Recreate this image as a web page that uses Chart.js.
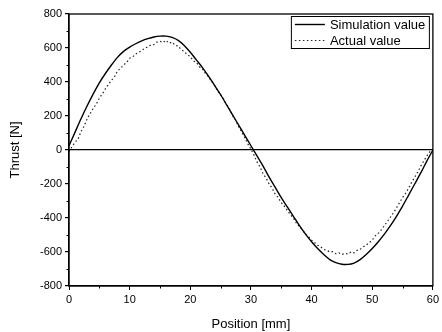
<!DOCTYPE html>
<html>
<head>
<meta charset="utf-8">
<script src="https://cdn.jsdelivr.net/npm/chart.js@4.4.1/dist/chart.umd.min.js"></script>
<style>
html,body{margin:0;padding:0;background:#fff;}
#wrap{width:442px;height:332px;}
</style>
</head>
<body>
<div id="wrap"><canvas id="c" width="442" height="332"></canvas></div>
<script>
// ---- data ----
const simPosition = [0,1,2,3,4,5,6,7,8,9,10,11,12,13,14,15,16,17,18,19,20,21,22,23,24,25,26,27,28,29,30,31,32,33,34,35,36,37,38,39,40,41,42,43,44,45,46,47,48,49,50,51,52,53,54,55,56,57,58,59,60];
const simThrust = [25,105,185,260,330,395,450,500,545,580,605,625,642,655,665,670,670,662,645,615,575,530,485,435,380,325,265,205,145,85,25,-35,-95,-160,-220,-280,-335,-390,-445,-495,-540,-580,-615,-645,-662,-672,-673,-665,-645,-615,-580,-540,-495,-445,-390,-330,-265,-200,-135,-65,0];
const actPosition = [0,0.5,1,1.5,2,2.5,3,3.5,4,4.5,5,5.5,6,6.5,7,7.5,8,8.5,9,9.5,10,10.5,11,11.5,12,12.5,13,13.5,14,14.5,15,15.5,16,16.5,17,17.5,18,18.5,19,19.5,20,20.5,21,21.5,22,22.5,23,23.5,24,24.5,25,25.5,26,26.5,27,27.5,28,28.5,29,29.5,30,30.5,31,31.5,32,32.5,33,33.5,34,34.5,35,35.5,36,36.5,37,37.5,38,38.5,39,39.5,40,40.5,41,41.5,42,42.5,43,43.5,44,44.5,45,45.5,46,46.5,47,47.5,48,48.5,49,49.5,50,50.5,51,51.5,52,52.5,53,53.5,54,54.5,55,55.5,56,56.5,57,57.5,58,58.5,59,59.5,60];
const actThrust = [-10,20,45,65,110,140,185,215,245,270,305,330,360,385,410,430,465,480,500,515,540,548,565,575,585,600,605,618,620,635,640,632,645,628,635,615,612,590,580,560,550,525,515,490,478,450,430,405,380,350,325,300,265,240,200,175,135,105,70,35,5,-30,-70,-100,-140,-165,-200,-225,-260,-280,-310,-330,-355,-380,-400,-430,-450,-470,-495,-510,-530,-545,-560,-570,-585,-590,-600,-598,-610,-605,-615,-608,-612,-600,-605,-590,-585,-570,-560,-545,-530,-505,-490,-470,-445,-420,-395,-370,-340,-310,-280,-255,-225,-190,-160,-130,-95,-65,-35,-10,5];
const seriesLabels = ["Simulation value","Actual value"];
const xTicks = [0,10,20,30,40,50,60];
const yTicks = [-800,-600,-400,-200,0,200,400,600,800];
const xTitle = "Position [mm]";
const yTitle = "Thrust [N]";

const FONT = "'Liberation Sans', Arial, sans-serif";

const framePlugin = {
  id: 'frame',
  afterDatasetsDraw(chart) {
    const {ctx, chartArea: a, scales} = chart;
    ctx.save();
    ctx.strokeStyle = '#000';
    ctx.lineWidth = 1.3;
    ctx.strokeRect(a.left, a.top, a.right - a.left, a.bottom - a.top);
    // minor ticks
    ctx.lineWidth = 1;
    ctx.beginPath();
    for (let i = 0; i < xTicks.length - 1; i++) {
      const v = (xTicks[i] + xTicks[i+1]) / 2;
      const px = Math.round(scales.x.getPixelForValue(v)) + 0.5;
      ctx.moveTo(px, a.bottom); ctx.lineTo(px, a.bottom + 2.5);
    }
    for (let i = 0; i < yTicks.length - 1; i++) {
      const v = (yTicks[i] + yTicks[i+1]) / 2;
      const py = Math.round(scales.y.getPixelForValue(v)) + 0.5;
      ctx.moveTo(a.left, py); ctx.lineTo(a.left - 2.5, py);
    }
    ctx.stroke();
    // legend
    const bx = a.right - 142, by = a.top + 2, bw = 138, bh = 32;
    ctx.fillStyle = '#fff';
    ctx.fillRect(bx, by, bw, bh);
    ctx.strokeStyle = '#000';
    ctx.lineWidth = 1;
    ctx.strokeRect(bx + 0.5, by + 0.5, bw, bh);
    const items = chart.data.datasets;
    ctx.font = '13px ' + FONT;
    ctx.textBaseline = 'middle';
    ctx.fillStyle = '#000';
    items.forEach((ds, i) => {
      const y = by + 8 + i * 16;
      ctx.beginPath();
      ctx.strokeStyle = ds.borderColor;
      ctx.lineWidth = ds.borderWidth;
      ctx.setLineDash(ds.borderDash || []);
      ctx.moveTo(bx + 4, y + 0.5); ctx.lineTo(bx + 34, y + 0.5);
      ctx.stroke();
      ctx.setLineDash([]);
      ctx.fillText(ds.label, bx + 39, y + 1);
    });
    ctx.restore();
  }
};

const toPoints = (xs, ys) => xs.map((x, i) => ({x: x, y: ys[i]}));

new Chart(document.getElementById('c'), {
  type: 'line',
  data: {
    datasets: [
      {label: seriesLabels[0], data: toPoints(simPosition, simThrust), borderColor: '#000', borderWidth: 1.4, pointRadius: 0, tension: 0.3, fill: false},
      {label: seriesLabels[1], data: toPoints(actPosition, actThrust), borderColor: '#222', borderWidth: 1.2, borderDash: [1.5, 2.5], pointRadius: 0, tension: 0, fill: false}
    ]
  },
  options: {
    responsive: false,
    animation: false,
    devicePixelRatio: 1,
    layout: {padding: {left: 0, top: 14, right: 4, bottom: 0}},
    plugins: {legend: {display: false}, tooltip: {enabled: false}},
    scales: {
      x: {
        type: 'linear', min: 0, max: 60,
        afterBuildTicks: s => { s.ticks = xTicks.map(v => ({value: v})); },
        afterFit: s => { s.height = 46; },
        border: {display: true, color: '#000', width: 1.3},
        grid: {drawOnChartArea: false, drawTicks: true, tickLength: 4, color: '#000', tickColor: '#000'},
        ticks: {color: '#000', font: {family: FONT, size: 11}, padding: 3, maxRotation: 0},
        title: {display: true, text: xTitle, color: '#000', font: {family: FONT, size: 13}, padding: {top: 6, bottom: 0}}
      },
      y: {
        type: 'linear', min: -800, max: 800,
        afterBuildTicks: s => { s.ticks = yTicks.map(v => ({value: v})); },
        afterFit: s => { s.width = 69; },
        border: {display: true, color: '#000', width: 1.3},
        grid: {
          drawOnChartArea: true, drawTicks: true, tickLength: 4,
          color: c => (c.tick && c.tick.value === 0) ? '#000' : 'rgba(0,0,0,0)',
          tickColor: '#000',
          lineWidth: 1.2
        },
        ticks: {color: '#000', font: {family: FONT, size: 11}, padding: 3},
        title: {display: true, text: yTitle, color: '#000', font: {family: FONT, size: 13}, padding: {top: 8, bottom: 0}}
      }
    }
  },
  plugins: [framePlugin]
});
</script>
</body>
</html>
